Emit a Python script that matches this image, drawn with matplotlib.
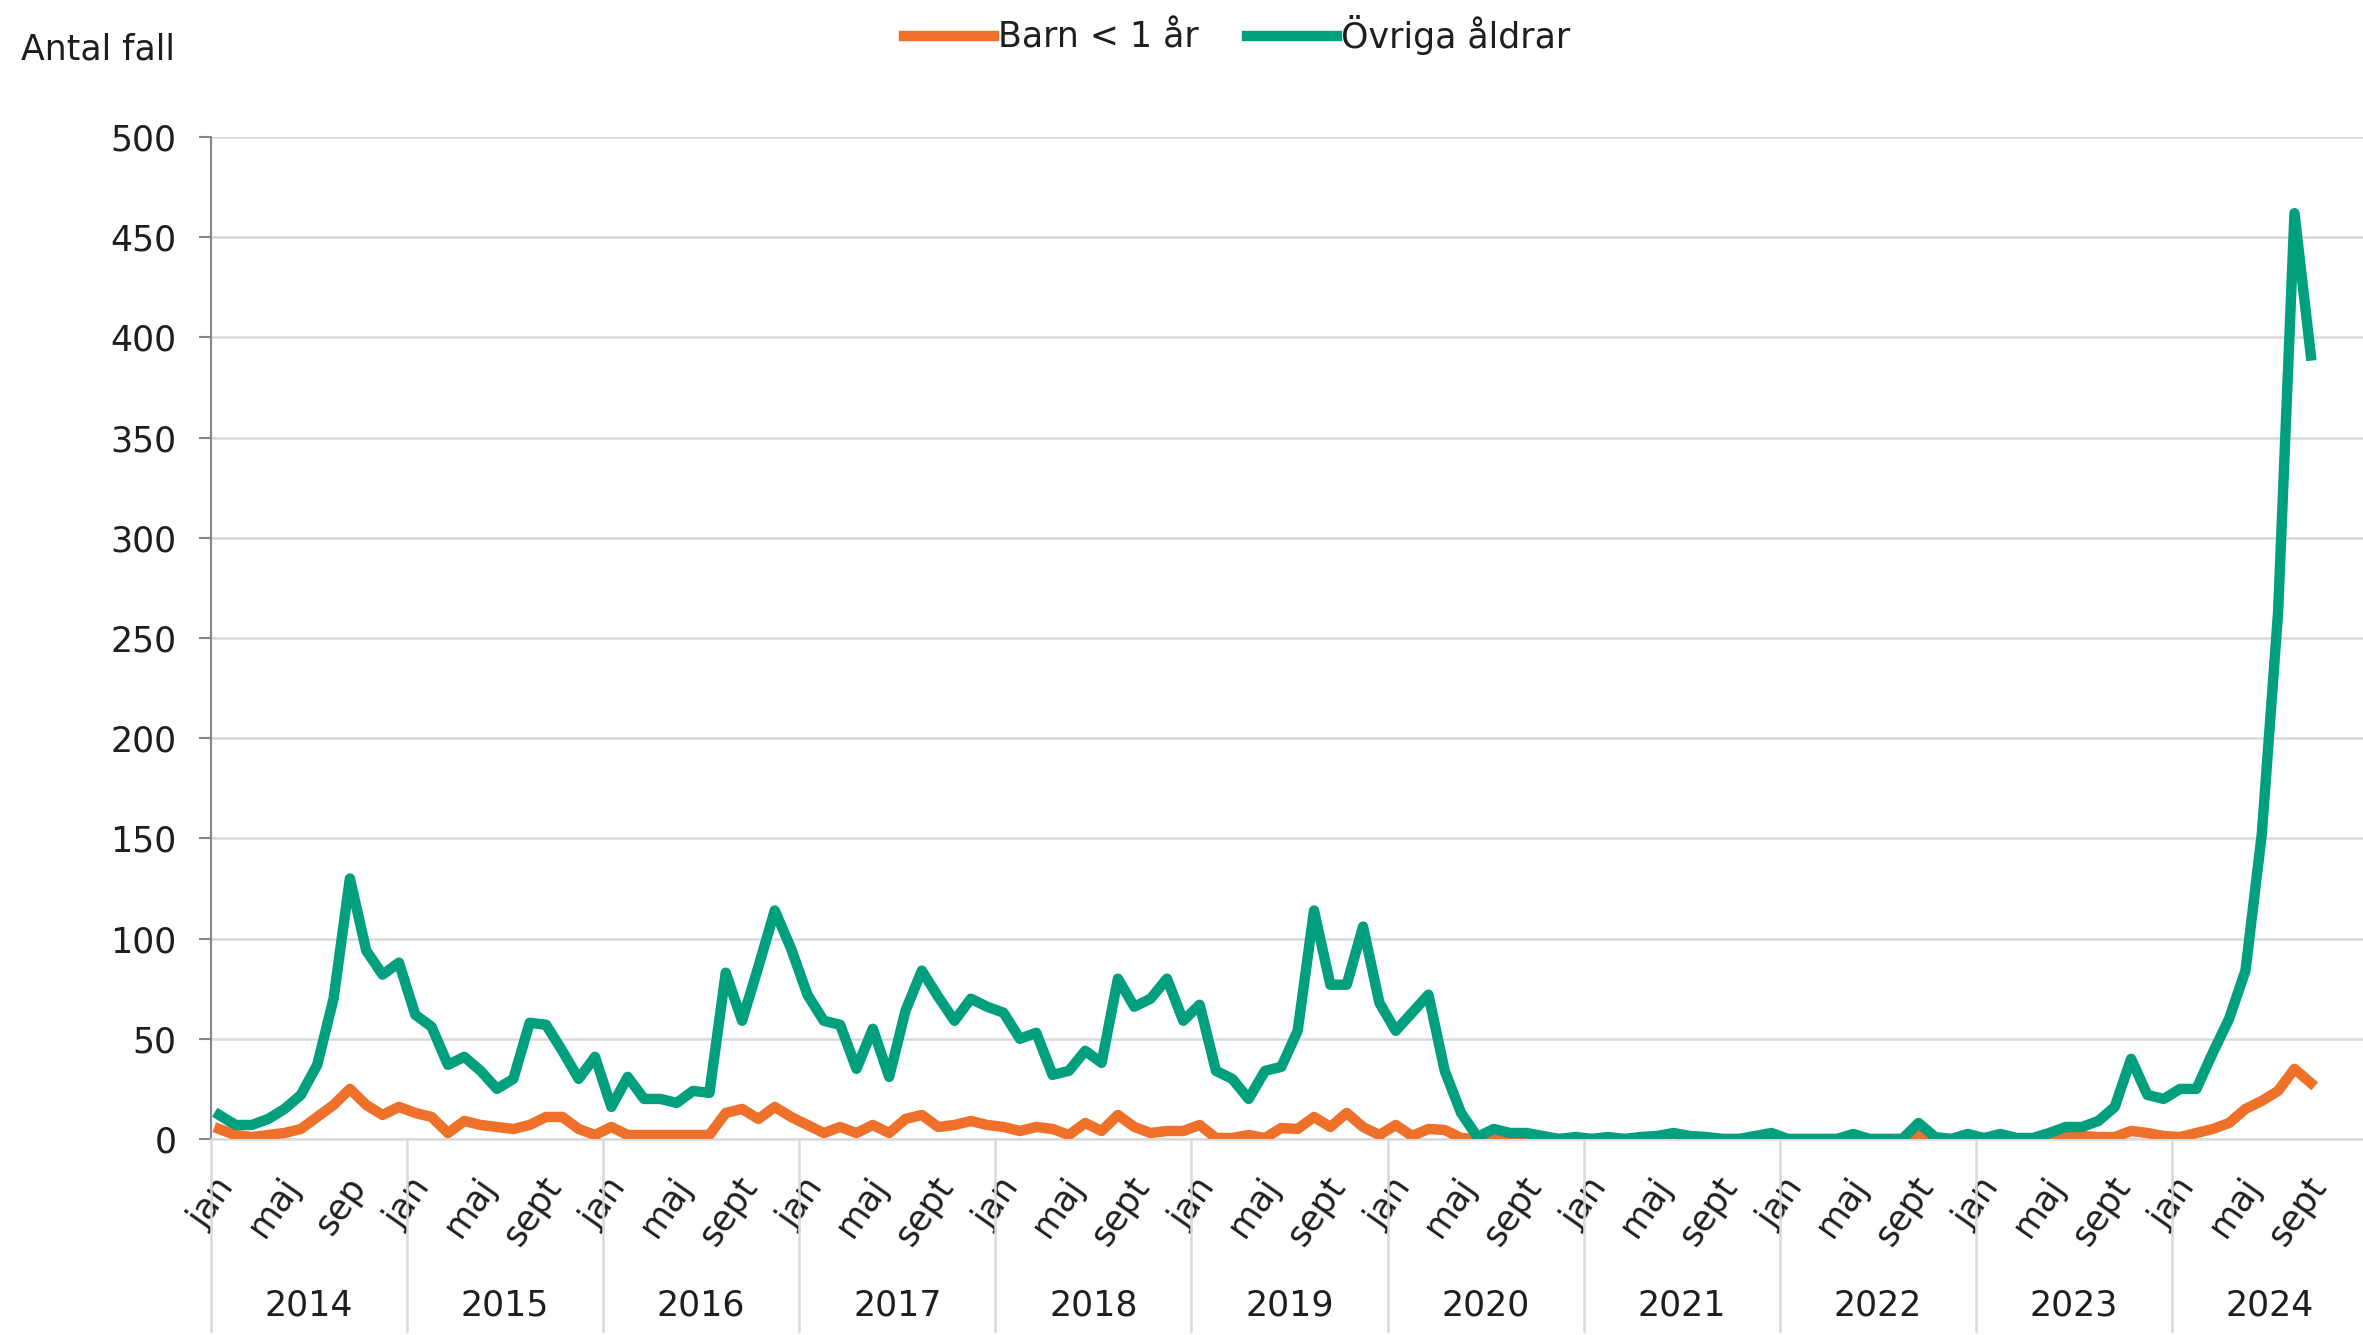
import matplotlib
matplotlib.use("Agg")
import matplotlib.pyplot as plt

# Antal fall per månad, jan 2014 - sept 2024
years = [2014, 2015, 2016, 2017, 2018, 2019, 2020, 2021, 2022, 2023, 2024]

barn = [
    5, 2, 1, 2, 3, 5, 11, 17, 25, 17, 12, 16,        # 2014
    13, 11, 3, 9, 7, 6, 5, 7, 11, 11, 5, 2,          # 2015
    6, 2, 2, 2, 2, 2, 2, 13, 15, 10, 16, 11,         # 2016
    7, 3, 6, 3, 7, 3, 10, 12, 6, 7, 9, 7,            # 2017
    6, 4, 6, 5, 2, 8, 4, 12, 6, 3, 4, 4,             # 2018
    7, 0.5, 0.5, 2, 0.5, 5.5, 5, 11, 6, 13, 6, 2,    # 2019
    7, 1.5, 5, 4.5, 0.5, 0, 1, 0, 0, 0, 0, 0,        # 2020
    0, 0, 0, 0, 0, 1, 0, 0, 0, 0, 0, 1,              # 2021
    0, 0, 0, 0, 1, 0, 0, 0, 3, 0, 0, 0,              # 2022
    0, 0, 0, 0, 0, 1, 1.5, 1, 1, 4, 3, 1.5,          # 2023
    1, 3, 5, 8, 15, 19, 24, 35, 28,                  # 2024
]

ovriga = [
    12, 7, 7, 10, 15, 22, 37, 70, 130, 94, 82, 88,   # 2014
    62, 56, 37, 41, 34, 25, 30, 58, 57, 44, 30, 41,  # 2015
    16, 31, 20, 20, 18, 24, 23, 83, 59, 86, 114, 95, # 2016
    72, 59, 57, 35, 55, 31, 64, 84, 71, 59, 70, 66,  # 2017
    63, 50, 53, 32, 34, 44, 38, 80, 66, 70, 80, 59,  # 2018
    67, 34, 30, 20, 34, 36, 54, 114, 77, 77, 106, 68,  # 2019
    54, 63, 72, 34, 13, 1, 5, 3, 3, 1.5, 0, 1,       # 2020
    0, 1, 0, 1, 1.5, 3, 1.5, 1, 0, 0, 1.5, 3,        # 2021
    0, 0, 0, 0, 2.5, 0, 0, 0, 8, 1, 0, 2.5,          # 2022
    0.5, 2.5, 0.5, 0.5, 3, 6, 6, 9, 16, 40, 22, 20,  # 2023
    25, 25, 43, 60, 84, 152, 263, 462, 391,          # 2024
]

month_labels_first = ["jan", "maj", "sep"]
month_labels = ["jan", "maj", "sept"]
month_label_idx = [0, 4, 8]

ORANGE = "#EE7029"
GREEN = "#00A07E"
GRID = "#D9D9D9"
TEXT = "#1E1E1E"
FS = 25

W, H = 2363, 1335
fig = plt.figure(figsize=(W / 100, H / 100), dpi=100)
left, right = 211, 2368
y0, y500 = 1139, 137
ax = fig.add_axes([left / W, 1 - y0 / H, (right - left) / W, (y0 - y500) / H])

x = [i + 0.5 for i in range(len(ovriga))]
ax.plot(x, barn, color=ORANGE, lw=7.5, solid_joinstyle="round", label="Barn < 1 år", zorder=3)
ax.plot(x, ovriga, color=GREEN, lw=7.5, solid_joinstyle="round", label="Övriga åldrar", zorder=4)

ax.set_xlim(0, 12 * len(years))
ax.set_ylim(0, 500)
ax.set_yticks(range(0, 501, 50))
ax.yaxis.grid(True, color=GRID, lw=1.8)
ax.set_axisbelow(True)
ax.tick_params(axis="y", labelsize=FS, colors="#868686", labelcolor=TEXT,
               length=9, width=1.5, pad=16)
for s in ["top", "right"]:
    ax.spines[s].set_visible(False)
ax.spines["left"].set_color("#868686")
ax.spines["left"].set_linewidth(1.5)
ax.spines["bottom"].set_color(GRID)
ax.spines["bottom"].set_linewidth(1.8)

# månadsetiketter
ticks, labels = [], []
for k, yr in enumerate(years):
    names = month_labels_first if k == 0 else month_labels
    for m, name in zip(month_label_idx, names):
        ticks.append(12 * k + m + 1.0)
        labels.append(name)
ax.set_xticks(ticks)
ax.set_xticklabels(labels, rotation=55, ha="right", va="center",
                   rotation_mode="anchor", fontsize=FS, color=TEXT)
ax.tick_params(axis="x", length=0, pad=30)

# årsavdelare och årtal
trans = ax.get_xaxis_transform()
bottom_frac = -(H - y0) / (y0 - y500)
for k, yr in enumerate(years):
    ax.plot([12 * k, 12 * k], [0, bottom_frac + 0.004], transform=trans,
            color=GRID, lw=1.8, clip_on=False)
    ax.text(12 * k + 6, -(1306 - y0) / (y0 - y500), str(yr), transform=trans,
            ha="center", va="center", fontsize=FS, color=TEXT)

fig.text(21 / W, 1 - 50 / H, "Antal fall", ha="left", va="center",
         fontsize=FS, color=TEXT)

fig.legend(loc="center", bbox_to_anchor=(0.5235, 1 - 35 / H), ncol=2,
           frameon=False, fontsize=FS, handlelength=2.6, handletextpad=0.1,
           columnspacing=1.4, labelcolor=TEXT)

fig.savefig("out.png", dpi=100)
